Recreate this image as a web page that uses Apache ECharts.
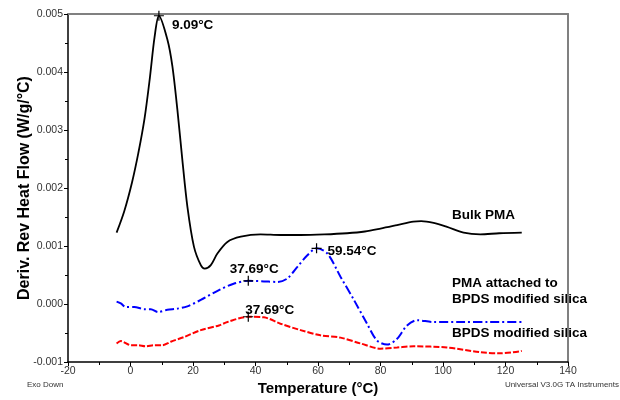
<!DOCTYPE html>
<html>
<head>
<meta charset="utf-8">
<script src="https://cdn.jsdelivr.net/npm/echarts@6/dist/echarts.min.js"></script>
<style>
  html, body { margin: 0; padding: 0; background: #fff; }
  #chart { width: 620px; height: 400px; }
</style>
</head>
<body>
<div id="chart"></div>
<script>
// curve data: [temperature °C, W/g/°C]
const bulkPMA = [
  [-4.45, 0.00123], [-2, 0.0016], [0.5, 0.0021], [2.5, 0.0026], [4.5, 0.0032],
  [6.2, 0.0039], [7.7, 0.0046], [9.09, 0.00497], [11.8, 0.00456], [13.4, 0.0041],
  [15.0, 0.00335], [16.6, 0.00248], [18.2, 0.00168], [20.3, 0.00099], [22.5, 0.00067],
  [23.75, 0.00061], [25.7, 0.00067], [27.8, 0.00087], [31, 0.00107], [35.3, 0.00116],
  [41.6, 0.0012], [48, 0.00119], [54.4, 0.00119], [62, 0.0012], [69.3, 0.00122],
  [75, 0.00125], [80, 0.0013], [85.3, 0.00136], [90.5, 0.00142], [93, 0.00143],
  [97, 0.0014], [101.3, 0.00133], [106.6, 0.00123], [111.9, 0.0012], [118, 0.00122],
  [125.2, 0.00123]
]
const pmaOnSilica = [
  [-4.45, 0.00004], [-3.1, 0.00001], [-1.5, -0.00005], [1.2, -0.00005], [4.4, -0.00009],
  [6.5, -0.00009], [8.8, -0.00014], [11.8, -0.0001], [15, -0.00008], [18.2, -0.00004],
  [22.5, 0.00007], [28.3, 0.00024], [33, 0.00035], [37.69, 0.0004], [42.7, 0.00039],
  [47, 0.00038], [50.2, 0.00044], [53.4, 0.00064], [56.6, 0.00084], [59.54, 0.00096],
  [63, 0.00087], [67.2, 0.00047], [71.5, 0.00007], [75.7, -0.00034], [78.9, -0.00063],
  [82.1, -0.0007], [85.3, -0.0006], [88.5, -0.00037], [91.7, -0.00028], [97, -0.00031],
  [106.6, -0.00031], [115, -0.00031], [125.2, -0.00031]
]
const bpdsSilica = [
  [-4.45, -0.00068], [-3.1, -0.00064], [0.1, -0.00071], [2.3, -0.00071], [4.9, -0.00073],
  [7.6, -0.00071], [10.2, -0.00071], [12.9, -0.00065], [17.1, -0.00057], [22.5, -0.00045],
  [28.3, -0.00037], [31, -0.00031], [37.69, -0.00022], [42.7, -0.00023], [48, -0.00034],
  [54.4, -0.00045], [60.8, -0.00054], [67.2, -0.00058], [73.6, -0.00068], [80, -0.00077],
  [85.3, -0.00075], [90.6, -0.00073], [101.3, -0.00075], [111.9, -0.00083], [118.3, -0.00085],
  [125.2, -0.00081]
]

// peak markers
const peakX = [9.09, 37.69, 59.54, 37.69]
const peakY = [0.00497, 0.0004, 0.00096, -0.00022]
const peakLabels = ['9.09°C', '37.69°C', '59.54°C', '37.69°C']

// label placement for each peak (relative to marker box)
const peakLabelPos = [
  { position: [18, 15], align: 'left' },
  { position: [11, -7], align: 'center' },
  { position: [16, 8], align: 'left' },
  { position: [2, -1], align: 'left' }
]

const FONT = 'Liberation Sans, Arial, sans-serif'
const chart = echarts.init(document.getElementById('chart'))

const peaks = peakX.map((x, i) => ({
  value: [x, peakY[i]],
  label: {
    show: true,
    formatter: peakLabels[i],
    position: peakLabelPos[i].position,
    align: peakLabelPos[i].align,
    verticalAlign: 'middle'
  }
}))

const option = {
  animation: false,
  backgroundColor: '#fff',
  grid: { left: 68, right: 52, top: 14, bottom: 38, outerBoundsMode: 'none' },
  xAxis: [{
    type: 'value',
    min: -20,
    max: 140,
    interval: 20,
    name: 'Temperature (°C)',
    nameLocation: 'middle',
    nameGap: 19,
    nameMoveOverlap: false,
    nameTextStyle: { fontFamily: FONT, fontWeight: 'bold', fontSize: 15, color: '#000' },
    axisLine: { onZero: false, lineStyle: { color: '#000', width: 1.5 } },
    axisTick: { length: 4, lineStyle: { color: '#000' } },
    minorTick: { show: true, splitNumber: 2, length: 3, lineStyle: { color: '#000' } },
    axisLabel: { fontFamily: FONT, fontSize: 10.5, color: '#333', margin: 4 },
    splitLine: { show: false }
  }, {
    type: 'value',
    position: 'top',
    min: -20,
    max: 140,
    axisLine: { show: true, onZero: false, lineStyle: { color: '#808080', width: 2 } },
    axisTick: { show: false },
    axisLabel: { show: false },
    splitLine: { show: false }
  }],
  yAxis: [{
    type: 'value',
    min: -0.001,
    max: 0.005,
    interval: 0.001,
    name: 'Deriv. Rev Heat Flow (W/g/°C)',
    nameLocation: 'middle',
    nameGap: 35,
    nameMoveOverlap: false,
    nameTextStyle: { fontFamily: FONT, fontWeight: 'bold', fontSize: 16, color: '#000' },
    axisLine: { show: true, onZero: false, lineStyle: { color: '#000', width: 1.5 } },
    axisTick: { show: true, length: 4, lineStyle: { color: '#000' } },
    minorTick: { show: true, splitNumber: 2, length: 3, lineStyle: { color: '#000' } },
    axisLabel: {
      fontFamily: FONT, fontSize: 10.5, color: '#333', margin: 5,
      formatter: v => v.toFixed(3)
    },
    splitLine: { show: false }
  }, {
    type: 'value',
    position: 'right',
    min: -0.001,
    max: 0.005,
    axisLine: { show: true, onZero: false, lineStyle: { color: '#808080', width: 2 } },
    axisTick: { show: false },
    axisLabel: { show: false },
    splitLine: { show: false }
  }],
  series: [
    {
      name: 'Bulk PMA',
      type: 'line',
      data: bulkPMA,
      smooth: 0.3,
      symbol: 'none',
      lineStyle: { color: '#000', width: 1.8 }
    },
    {
      name: 'PMA attached to BPDS modified silica',
      type: 'line',
      data: pmaOnSilica,
      smooth: 0.3,
      symbol: 'none',
      lineStyle: { color: '#0000ff', width: 2, type: [9, 3, 2, 3] }
    },
    {
      name: 'BPDS modified silica',
      type: 'line',
      data: bpdsSilica,
      smooth: 0.3,
      symbol: 'none',
      lineStyle: { color: '#ff0000', width: 2, type: [6, 2] }
    },
    {
      name: 'peaks',
      type: 'scatter',
      data: peaks,
      symbol: 'path://M4.4,0H5.6V4.4H10V5.6H5.6V10H4.4V5.6H0V4.4H4.4Z',
      symbolSize: 10,
      itemStyle: { color: '#000', opacity: 1 },
      label: { fontFamily: FONT, fontWeight: 'bold', fontSize: 13.5, color: '#000' },
      z: 5
    }
  ],
  graphic: [
    { type: 'text', left: 452, top: 208, style: { text: 'Bulk PMA', font: 'bold 13.5px ' + FONT, fill: '#000' } },
    { type: 'text', left: 452, top: 275, style: { text: 'PMA attached to\nBPDS modified silica', font: 'bold 13.5px ' + FONT, fill: '#000', lineHeight: 16.3 } },
    { type: 'text', left: 452, top: 326, style: { text: 'BPDS modified silica', font: 'bold 13.5px ' + FONT, fill: '#000' } },
    { type: 'text', left: 27, top: 381, style: { text: 'Exo Down', font: '8px ' + FONT, fill: '#333' } },
    { type: 'text', right: 1, top: 381, style: { text: 'Universal V3.0G TA Instruments', font: '8px ' + FONT, fill: '#333' } }
  ]
}

chart.setOption(option)
</script>
</body>
</html>
